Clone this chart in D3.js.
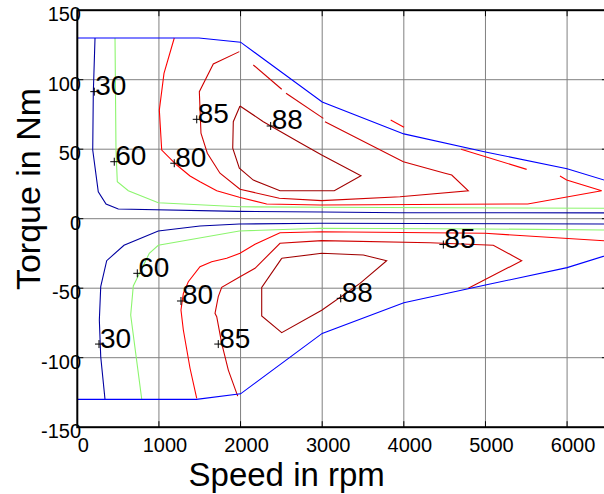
<!DOCTYPE html>
<html>
<head>
<meta charset="utf-8">
<script src="https://cdn.jsdelivr.net/npm/d3@7"></script>
<style>
  body { margin: 0; background: #fff; }
  svg { display: block; font-family: "Liberation Sans", Arial, sans-serif; }
</style>
</head>
<body>
<svg id="chart"></svg>
<script>
// Data: speed in rpm, torque in Nm
const speedTicks = [0, 1000, 2000, 3000, 4000, 5000, 6000];
const torqueTicks = [-150, -100, -50, 0, 50, 100, 150];

// max torque envelope
const boundaryUpper = [[0,130],[1490,130],[2000,127],[3000,84],[4000,61],[5000,48],[6000,36],[6500,27]];
const boundaryLower = [[0,-130],[1460,-130],[2000,-126],[3000,-82.5],[4000,-60.4],[5000,-47.7],[6000,-35.2],[6500,-26]];

// efficiency contours, each level may have several pieces
const contour30 = [
    [[217,130],[196,90.2],[189,49.4],[257,19.4],[352,10.6],[502,7],[1972,5.3],[3000,4.8],[3953,4.3],[6500,4.2]],
    [[6500,-3.8],[2972,-3.3],[1985,-3.8],[1503,-5.3],[992,-8.8],[572,-19.1],[360,-30.2],[287,-48.9],[270,-72.9],[287,-99.3],[339,-129.7]]
];
const contour60 = [
    [[462,130],[474,49.4],[490,26.6],[625,20.1],[992,11.5],[1985,8.6],[3000,8.2],[6500,7.5]],
    [[6500,-8.1],[5000,-7.4],[2972,-6.9],[1985,-8.8],[992,-19.1],[882,-24.9],[686,-48.4],[654,-69.3],[789,-129.7]]
];
const contour80 = [
    [[1188,130],[1062,104.6],[1005,78.2],[1034,49.4],[1218,38.6],[1381,30.7],[1503,26.6],[1708,20.1],[1985,15.4],[2320,10.6],[2973,9.9],[5518,10.6],[6424,20.1],[5995,27.8],[5913,30.7]],
    [[3839,71],[4002,65.8]],
    [[4701,49.9],[5505,35.5]],
    [[6500,-16],[4994,-10.5],[2994,-9.4],[2483,-10.1],[2177,-18.4],[1993,-24.9],[1830,-28.5],[1646,-30.9],[1503,-34.5],[1360,-45.3],[1299,-53.7],[1270,-65.7],[1299,-80.1],[1381,-107.6],[1463,-129.2]]
];
const contour85 = [
    [[1985,120.2],[1666,111.3],[1495,91.4],[1515,61.5],[1593,47.1],[1748,32.7],[1993,21.2],[2475,14.7],[2994,13],[3953,15.8],[4790,20.1],[4587,31.4],[4504,32.7],[3994,41],[3034,69.8]],
    [[2156,110.6],[2504,93.1]],
    [[2557,90.2],[3014,72.2]],
    [[1965,-127.6],[1850,-108.9],[1769,-89.7],[1708,-70.5],[1687,-68.1],[1727,-56.1],[1769,-49.4],[1993,-41.7],[2177,-35.7],[2483,-17.7],[2994,-15.8],[4321,-17.3],[5096,-19.1],[5444,-30.2],[4790,-50.1]]
];
const contour88 = [
    [[1993,81.1],[2279,69.8],[2728,54.7],[2994,45.8],[3475,30.9],[3148,20.1],[2483,20.1],[2156,27.8],[1985,36.3],[1904,50.7],[1911,69.8],[1993,81.1]],
    [[2504,-28.5],[2994,-24.9],[3504,-26.1],[3790,-30.2],[3463,-46.5],[2994,-65.9],[2504,-82],[2259,-70],[2259,-49.4],[2504,-28.5]]
];

// contour labels: [speed, torque, text]
const contourLabels = [
    [208,91.4,"30"],[266,-90.2,"30"],
    [453,41,"60"],[735,-39.3,"60"],
    [1188,39.9,"80"],[1270,-59.2,"80"],
    [1463,71.5,"85"],[1727,-90.2,"85"],[4484,-18.6,"85"],
    [2369,66.7,"88"],[3227,-57.3,"88"]
];


// Set width and height
const width = 604;
const height = 494;
const plot = {left: 77.3, right: 607.9, top: 10.2, bottom: 427.2};

const svg = d3.select("#chart")
    .attr("width", width)
    .attr("height", height);

const x = d3.scaleLinear().domain([0, 6500]).range([plot.left, plot.right]);
const y = d3.scaleLinear().domain([-150, 150]).range([plot.bottom, plot.top]);

svg.append("defs").append("clipPath").attr("id", "plotClip")
    .append("rect")
    .attr("x", plot.left).attr("y", plot.top)
    .attr("width", plot.right - plot.left).attr("height", plot.bottom - plot.top);

// grid
const grid = svg.append("g");
grid.selectAll(".vgrid").data(speedTicks.slice(1))
    .enter().append("line")
    .attr("x1", d => x(d)).attr("x2", d => x(d))
    .attr("y1", plot.top).attr("y2", plot.bottom)
    .attr("stroke", "#808080").attr("stroke-width", 1);
grid.selectAll(".hgrid").data(torqueTicks.slice(1, -1))
    .enter().append("line")
    .attr("x1", plot.left).attr("x2", plot.right)
    .attr("y1", d => y(d)).attr("y2", d => y(d))
    .attr("stroke", "#808080").attr("stroke-width", 1);

// contours
const line = d3.line().x(d => x(d[0])).y(d => y(d[1]));
const layer = svg.append("g").attr("clip-path", "url(#plotClip)");

const drawPieces = function(pieces, color){
    layer.append("g").selectAll("path").data(pieces)
        .enter().append("path")
        .attr("d", line)
        .attr("fill", "none")
        .attr("stroke", color)
        .attr("stroke-width", 1.1);
}

drawPieces(contour30, "#0000a0");
drawPieces(contour60, "#8cf56e");
drawPieces(contour80, "#ff0000");
drawPieces(contour85, "#d00000");
drawPieces(contour88, "#a00000");
drawPieces([boundaryUpper, boundaryLower], "#0000ff");

// labels with + markers
const labels = svg.append("g");
contourLabels.forEach(function(l){
    const px = x(l[0]), py = y(l[1]);
    labels.append("path")
        .attr("d", "M" + (px - 4) + "," + py + "H" + (px + 4) + "M" + px + "," + (py - 4) + "V" + (py + 4))
        .attr("stroke", "#000").attr("stroke-width", 1);
    labels.append("text")
        .attr("x", px + 1).attr("y", py + 3.5)
        .style("font-size", "28px")
        .text(l[2]);
});

// axes box
const axes = svg.append("g");
axes.selectAll(".xtick").data(speedTicks.slice(1))
    .enter().append("path")
    .attr("d", d => "M" + x(d) + "," + plot.bottom + "v-6M" + x(d) + "," + plot.top + "v6")
    .attr("stroke", "#000").attr("stroke-width", 1);
axes.selectAll(".ytick").data(torqueTicks.slice(1, -1))
    .enter().append("path")
    .attr("d", d => "M" + plot.left + "," + y(d) + "h6M" + plot.right + "," + y(d) + "h-6")
    .attr("stroke", "#000").attr("stroke-width", 1);
axes.append("rect")
    .attr("x", plot.left).attr("y", plot.top)
    .attr("width", plot.right - plot.left).attr("height", plot.bottom - plot.top)
    .attr("fill", "none").attr("stroke", "#000").attr("stroke-width", 2);

// tick labels
svg.append("g").selectAll("text").data(speedTicks)
    .enter().append("text")
    .attr("x", d => x(d) + 6).attr("y", 452)
    .attr("text-anchor", "middle")
    .style("font-size", "20px")
    .text(d => d);
svg.append("g").selectAll("text").data(torqueTicks)
    .enter().append("text")
    .attr("x", 81).attr("y", d => y(d) + 11)
    .attr("text-anchor", "end")
    .style("font-size", "20px")
    .text(d => d);

// axis titles
svg.append("text")
    .attr("x", 286.7).attr("y", 486)
    .attr("text-anchor", "middle")
    .style("font-size", "33px")
    .text("Speed in rpm");
svg.append("text")
    .attr("transform", "translate(40,189) rotate(-90)")
    .attr("text-anchor", "middle")
    .style("font-size", "34px")
    .text("Torque in Nm");
</script>
</body>
</html>
